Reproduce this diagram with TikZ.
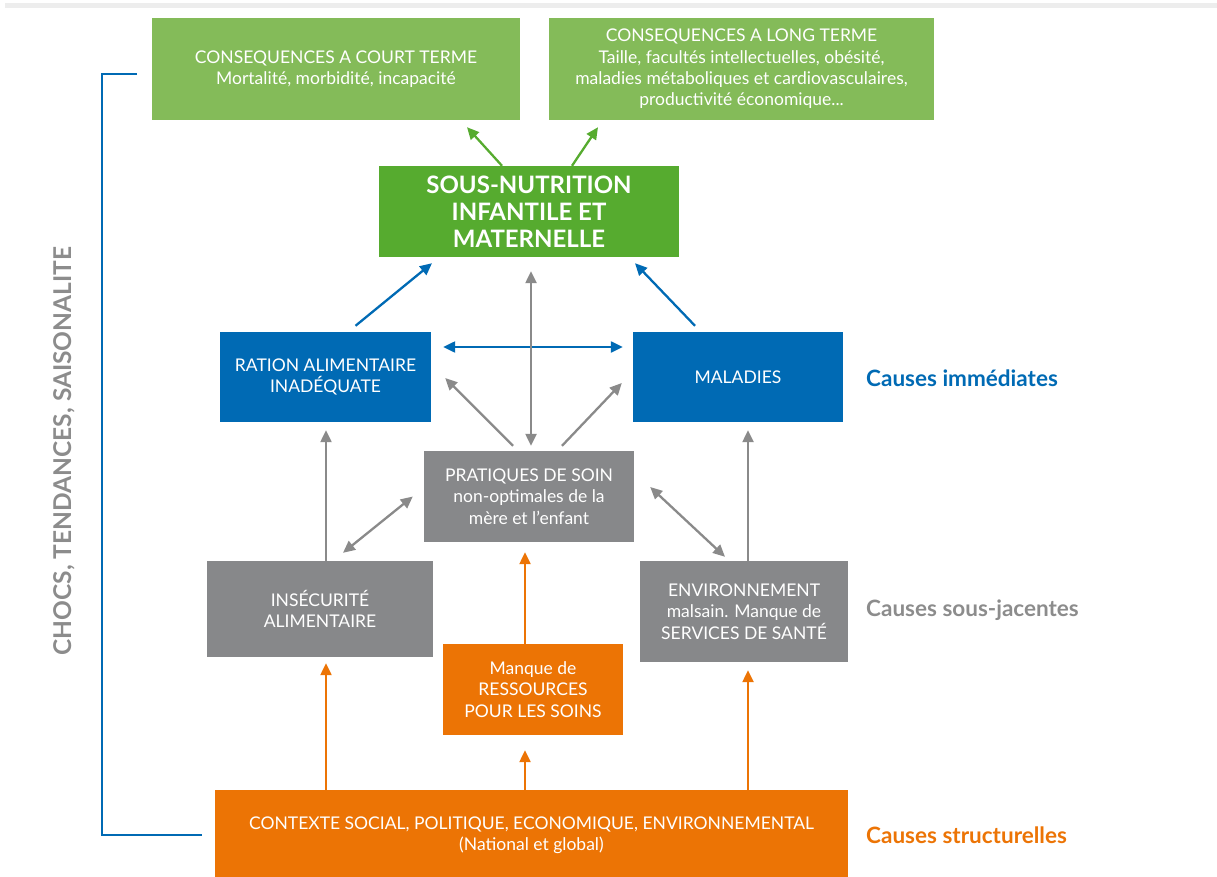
\documentclass[tikz,border=0pt]{standalone}
\usepackage{fontspec}
\setmainfont{Lato}
\usetikzlibrary{arrows.meta,calc}
\definecolor{lgreen}{HTML}{84BB59}
\definecolor{dgreen}{HTML}{56AB2F}
\definecolor{cblue}{HTML}{006AB4}
\definecolor{cgray}{HTML}{87888A}
\definecolor{agray}{HTML}{8A8A8A}
\definecolor{corange}{HTML}{EC7405}
\definecolor{lgray}{HTML}{8C8C8C}
\tikzset{
  box/.style={rectangle, inner sep=0pt, text=white, align=center,
    font=\fontsize{17.5}{21.3}\selectfont},
  arr/.style={line width=2.3pt, -{Triangle[length=12pt,width=11pt]}},
  darr/.style={line width=2.3pt, {Triangle[length=12pt,width=11pt]}-{Triangle[length=12pt,width=11pt]}},
  lbl/.style={anchor=west, inner sep=0pt, font=\fontsize{22.5}{26}\selectfont\bfseries},
}
\begin{document}
\begin{tikzpicture}[x=1pt,y=-1pt]
\useasboundingbox (0,0) rectangle (1217,877);
\fill[black!7] (5,3) rectangle (1217,8);
% boxes
\node[box, fill=lgreen, minimum width=368pt, minimum height=102pt] (court) at (336,69)
  {CONSEQUENCES A COURT TERME\\Mortalité, morbidité, incapacité};
\node[box, fill=lgreen, minimum width=385pt, minimum height=102pt] (long) at (741.5,69)
  {CONSEQUENCES A LONG TERME\\Taille, facultés intellectuelles, obésité,\\maladies métaboliques et cardiovasculaires,\\productivité économique...};
\node[box, fill=dgreen, minimum width=300pt, minimum height=91pt,
  font=\fontsize{24}{27}\selectfont\bfseries] (sn) at (529,211.5)
  {SOUS-NUTRITION\\INFANTILE ET\\MATERNELLE};
\node[box, fill=cblue, minimum width=211pt, minimum height=90pt] (ration) at (325.5,377)
  {RATION ALIMENTAIRE\\INADÉQUATE};
\node[box, fill=cblue, minimum width=210pt, minimum height=90pt] (mal) at (738,377)
  {MALADIES};
\node[box, fill=cgray, minimum width=210pt, minimum height=91pt] (prat) at (529,496.5)
  {PRATIQUES DE SOIN\\non-optimales de la\\mère et l'enfant};
\node[box, fill=cgray, minimum width=226pt, minimum height=96pt] (insec) at (320,609)
  {INSÉCURITÉ\\ALIMENTAIRE};
\node[box, fill=cgray, minimum width=208pt, minimum height=101pt] (env) at (744,611.5)
  {ENVIRONNEMENT\\malsain. Manque de\\SERVICES DE SANTÉ};
\node[box, fill=corange, minimum width=180pt, minimum height=91pt] (manq) at (533,689.5)
  {Manque de\\RESSOURCES\\POUR LES SOINS};
\node[box, fill=corange, minimum width=633pt, minimum height=90pt] (ctx) at (531.5,835)
  {CONTEXTE SOCIAL, POLITIQUE, ECONOMIQUE, ENVIRONNEMENTAL\\(National et global)};
% labels
\node[lbl, text=cblue] (l1) at (866,378) {Causes immédiates};
\node[lbl, text=lgray] (l2) at (866,610) {Causes sous-jacentes};
\node[lbl, text=corange] (l3) at (866,835) {Causes structurelles};
\node[rotate=90, text=lgray, inner sep=0pt, font=\fontsize{24.5}{28}\selectfont\bfseries] (chocs) at (64,451)
  {CHOCS, TENDANCES, SAISONALITE};
% bracket
\draw[cblue, line width=2pt] (137,74) -- (102,74) -- (102,835) -- (202,835);
% green arrows
\draw[arr, color=dgreen] ([xshift=-27pt]sn.north) -- ([xshift=131pt,yshift=-7pt]court.south);
\draw[arr, color=dgreen] ([xshift=43pt]sn.north) -- ([xshift=-143.5pt,yshift=-7pt]long.south);
% blue arrows
\draw[arr, color=cblue] ([xshift=30pt,yshift=6pt]ration.north) -- ([xshift=-97pt,yshift=-6pt]sn.south);
\draw[arr, color=cblue] ([xshift=-43pt,yshift=6pt]mal.north) -- ([xshift=106pt,yshift=-6pt]sn.south);
\draw[darr, color=cblue] ([xshift=12pt,yshift=30pt]ration.east) -- ([xshift=-10pt,yshift=30pt]mal.west);
% gray arrows
\draw[darr, color=agray] ([xshift=2pt,yshift=-14pt]sn.south) -- ([xshift=2pt,yshift=5pt]prat.north);
\draw[arr, color=agray] ([xshift=-16pt,yshift=5pt]prat.north) -- ([xshift=14pt,yshift=-1pt]ration.east);
\draw[arr, color=agray] ([xshift=33pt,yshift=5pt]prat.north) -- ([xshift=-11pt,yshift=-6pt]mal.west);
\draw[darr, color=agray] ([xshift=23pt,yshift=8pt]insec.north) -- ([xshift=-11pt]prat.west);
\draw[darr, color=agray] ([xshift=16pt,yshift=9.5pt]prat.east) -- ([xshift=-19pt,yshift=4pt]env.north);
\draw[arr, color=agray] ([xshift=6pt]insec.north) -- ([xshift=0.5pt,yshift=-8pt]ration.south);
\draw[arr, color=agray] ([xshift=4pt]env.north) -- ([xshift=10pt,yshift=-8pt]mal.south);
% orange arrows
\draw[arr, color=corange] ([xshift=-205.5pt]ctx.north) -- ([xshift=6pt,yshift=-6pt]insec.south);
\draw[arr, color=corange] ([xshift=-6.5pt]ctx.north) -- ([xshift=-8pt,yshift=-15pt]manq.south);
\draw[arr, color=corange] ([xshift=-8pt]manq.north) -- ([xshift=-4pt,yshift=-10pt]prat.south);
\draw[arr, color=corange] ([xshift=216.5pt]ctx.north) -- ([xshift=4pt,yshift=-8pt]env.south);
\end{tikzpicture}
\end{document}
